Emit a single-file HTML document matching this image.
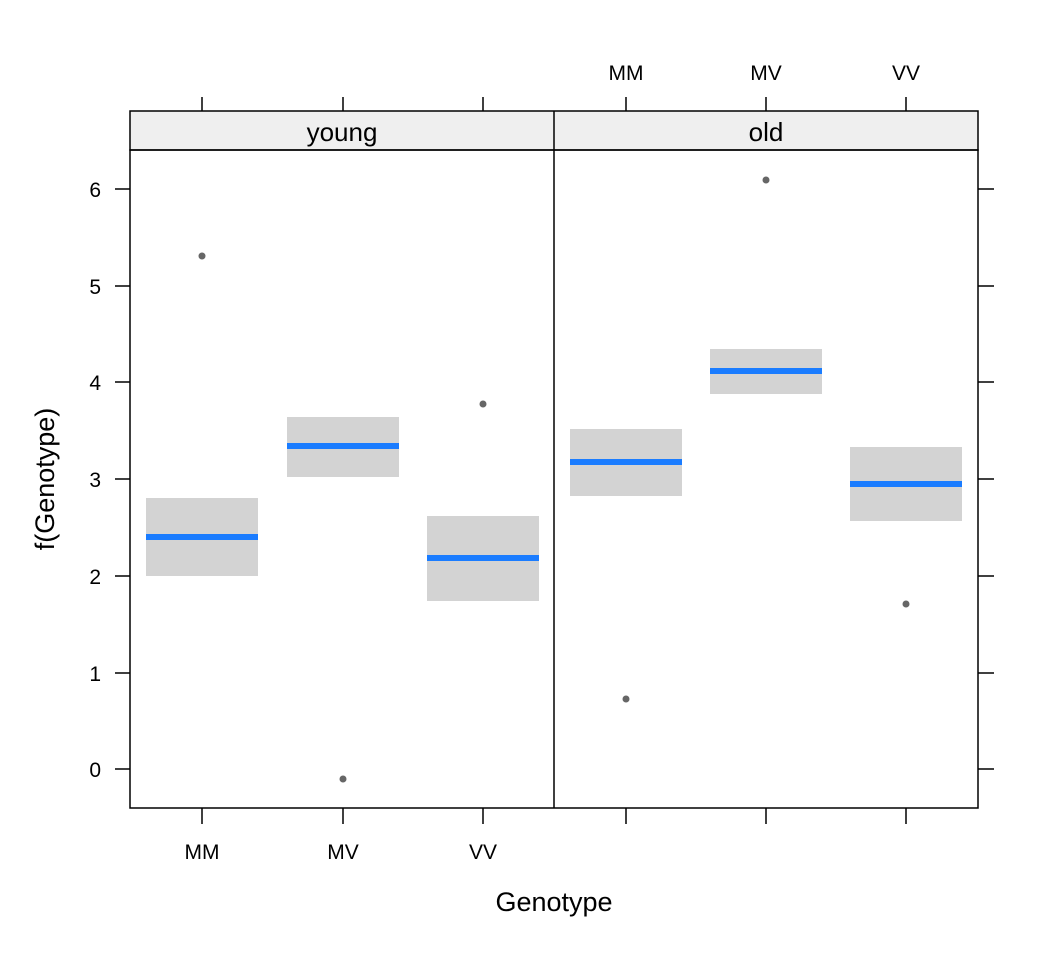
<!DOCTYPE html>
<html><head><style>body{margin:0;background:#fff}</style></head><body>
<svg width="1056" height="960" xmlns="http://www.w3.org/2000/svg" font-family="Liberation Sans, sans-serif">
<rect width="1056" height="960" fill="#fff"/>
<rect x="130" y="111" width="848" height="39" fill="#efefef" stroke="#000" stroke-width="1.5"/>
<line x1="554" y1="111" x2="554" y2="150" stroke="#000" stroke-width="1.5"/>
<text x="342" y="141" font-size="26" text-anchor="middle">young</text>
<text x="766" y="141" font-size="26" text-anchor="middle">old</text>
<g fill="#d3d3d3">
<rect x="146" y="498" width="112" height="78"/>
<rect x="287" y="417" width="112" height="60"/>
<rect x="427" y="516" width="112" height="85"/>
<rect x="570" y="429" width="112" height="67"/>
<rect x="710" y="349" width="112" height="45"/>
<rect x="850" y="447" width="112" height="74"/>
</g>
<g stroke="#1a7cff" stroke-width="6">
<line x1="146" y1="537" x2="258" y2="537"/>
<line x1="287" y1="446" x2="399" y2="446"/>
<line x1="427" y1="558" x2="539" y2="558"/>
<line x1="570" y1="462" x2="682" y2="462"/>
<line x1="710" y1="371" x2="822" y2="371"/>
<line x1="850" y1="484" x2="962" y2="484"/>
</g>
<g fill="#666">
<circle cx="202" cy="256" r="3.5"/><circle cx="343" cy="779" r="3.5"/><circle cx="483" cy="404" r="3.5"/>
<circle cx="626" cy="699" r="3.5"/><circle cx="766" cy="180" r="3.5"/><circle cx="906" cy="604" r="3.5"/>
</g>
<rect x="130" y="150" width="848" height="658" fill="none" stroke="#000" stroke-width="1.5"/>
<line x1="554" y1="150" x2="554" y2="808" stroke="#000" stroke-width="1.5"/>
<g stroke="#000" stroke-width="1.5">
<line x1="115" y1="769" x2="130" y2="769"/><line x1="115" y1="673" x2="130" y2="673"/><line x1="115" y1="576" x2="130" y2="576"/><line x1="115" y1="479" x2="130" y2="479"/><line x1="115" y1="382" x2="130" y2="382"/><line x1="115" y1="286" x2="130" y2="286"/><line x1="115" y1="189" x2="130" y2="189"/>
<line x1="978" y1="769" x2="994" y2="769"/><line x1="978" y1="673" x2="994" y2="673"/><line x1="978" y1="576" x2="994" y2="576"/><line x1="978" y1="479" x2="994" y2="479"/><line x1="978" y1="382" x2="994" y2="382"/><line x1="978" y1="286" x2="994" y2="286"/><line x1="978" y1="189" x2="994" y2="189"/>
<line x1="202" y1="808" x2="202" y2="824"/><line x1="343" y1="808" x2="343" y2="824"/><line x1="483" y1="808" x2="483" y2="824"/>
<line x1="626" y1="808" x2="626" y2="824"/><line x1="766" y1="808" x2="766" y2="824"/><line x1="906" y1="808" x2="906" y2="824"/>
<line x1="202" y1="97" x2="202" y2="111"/><line x1="343" y1="97" x2="343" y2="111"/><line x1="483" y1="97" x2="483" y2="111"/>
<line x1="626" y1="97" x2="626" y2="111"/><line x1="766" y1="97" x2="766" y2="111"/><line x1="906" y1="97" x2="906" y2="111"/>
</g>
<g font-size="21" text-anchor="end">
<text x="101" y="777">0</text><text x="101" y="681">1</text><text x="101" y="584">2</text><text x="101" y="487">3</text><text x="101" y="390">4</text><text x="101" y="294">5</text><text x="101" y="197">6</text>
</g>
<g font-size="21" text-anchor="middle">
<text x="202" y="859">MM</text><text x="343" y="859">MV</text><text x="483" y="859">VV</text>
<text x="626" y="80">MM</text><text x="766" y="80">MV</text><text x="906" y="80">VV</text>
</g>
<text x="554" y="911" font-size="27" text-anchor="middle">Genotype</text>
<text transform="translate(54,479) rotate(-90)" font-size="27" text-anchor="middle">f(Genotype)</text>
</svg>
</body></html>
